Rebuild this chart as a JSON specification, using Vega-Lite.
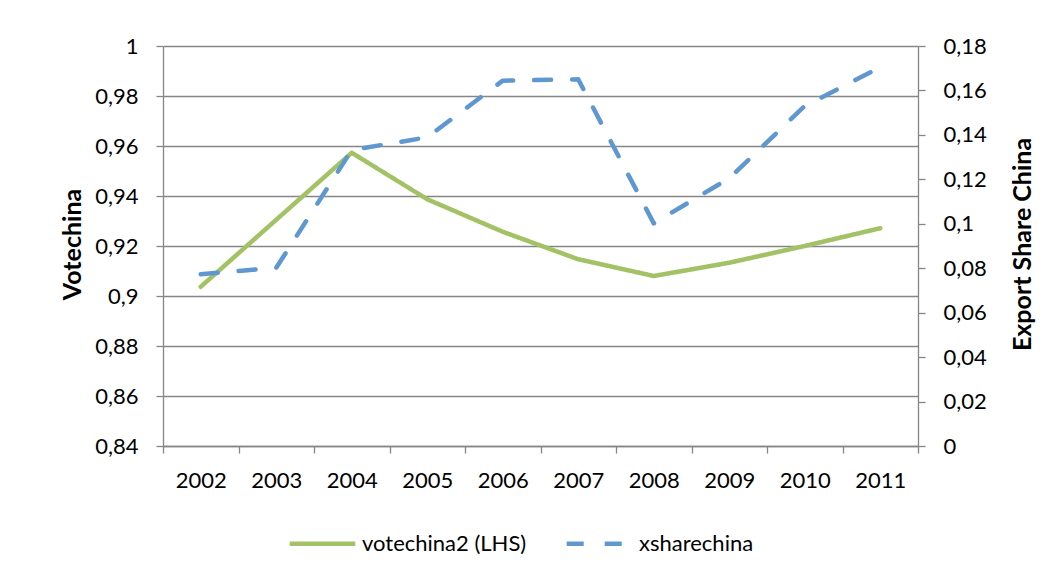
{
  "$schema": "https://vega.github.io/schema/vega-lite/v6.json",
  "autosize": "none",
  "width": 755,
  "height": 400,
  "padding": {"left": 163, "top": 46, "right": 138, "bottom": 135},
  "background": "white",
  "data": {
    "values": [
      {"year": "2002", "votechina": 0.9037, "xsharechina": 0.0773},
      {"year": "2003", "votechina": 0.9305, "xsharechina": 0.0802},
      {"year": "2004", "votechina": 0.9573, "xsharechina": 0.1332},
      {"year": "2005", "votechina": 0.9387, "xsharechina": 0.1389},
      {"year": "2006", "votechina": 0.9257, "xsharechina": 0.1644},
      {"year": "2007", "votechina": 0.9147, "xsharechina": 0.1650},
      {"year": "2008", "votechina": 0.9080, "xsharechina": 0.1002},
      {"year": "2009", "votechina": 0.9133, "xsharechina": 0.1205},
      {"year": "2010", "votechina": 0.9200, "xsharechina": 0.1530},
      {"year": "2011", "votechina": 0.9271, "xsharechina": 0.1704}
    ]
  },
  "encoding": {
    "x": {
      "field": "year",
      "type": "ordinal",
      "scale": {"type": "band", "paddingInner": 0, "paddingOuter": 0},
      "axis": {"title": null, "labelAngle": 0, "tickBand": "extent", "grid": false, "tickSize": 7, "labelPadding": 17}
    }
  },
  "layer": [
    {
      "mark": {"type": "line", "strokeWidth": 4.5, "strokeCap": "round", "strokeJoin": "round"},
      "encoding": {
        "y": {
          "field": "votechina",
          "type": "quantitative",
          "scale": {"domain": [0.84, 1], "nice": false, "zero": false},
          "axis": {
            "title": "Votechina",
            "orient": "left",
            "values": [0.84, 0.86, 0.88, 0.9, 0.92, 0.94, 0.96, 0.98, 1],
            "format": "~g",
            "grid": true,
            "tickSize": 7,
            "labelPadding": 18,
            "titleX": -91,
            "titleY": 198,
            "titleAngle": -90,
            "titleAlign": "center",
            "titleBaseline": "middle"
          }
        },
        "color": {
          "datum": "votechina2 (LHS)",
          "type": "nominal",
          "scale": {"domain": ["votechina2 (LHS)", "xsharechina"], "range": ["#A3C266", "#5F97D0"]}
        },
        "strokeDash": {
          "datum": "votechina2 (LHS)",
          "type": "nominal",
          "scale": {"domain": ["votechina2 (LHS)", "xsharechina"], "range": [[1, 0], [17, 21]]}
        }
      }
    },
    {
      "mark": {"type": "line", "strokeWidth": 4.5, "strokeCap": "round", "strokeJoin": "round"},
      "encoding": {
        "y": {
          "field": "xsharechina",
          "type": "quantitative",
          "scale": {"domain": [0, 0.18], "nice": false, "zero": true},
          "axis": {
            "title": "Export Share China",
            "orient": "right",
            "values": [0, 0.02, 0.04, 0.06, 0.08, 0.1, 0.12, 0.14, 0.16, 0.18],
            "format": "~g",
            "grid": false,
            "tickSize": 7,
            "labelPadding": 18,
            "titleX": 104,
            "titleY": 198,
            "titleAngle": -90,
            "titleAlign": "center",
            "titleBaseline": "middle"
          }
        },
        "color": {"datum": "xsharechina", "type": "nominal"},
        "strokeDash": {"datum": "xsharechina", "type": "nominal"}
      }
    }
  ],
  "resolve": {"scale": {"y": "independent"}},
  "config": {
    "locale": {"number": {"decimal": ",", "thousands": ".", "grouping": [3], "currency": ["", " €"]}},
    "font": "Lato",
    "view": {"stroke": null},
    "axis": {
      "labelFont": "Lato",
      "labelFontSize": 22,
      "labelColor": "#000000",
      "titleFont": "Lato",
      "titleFontSize": 25,
      "titleFontWeight": "bold",
      "titleColor": "#000000",
      "domainColor": "#868686",
      "domainWidth": 1.3,
      "tickColor": "#868686",
      "tickWidth": 1.3,
      "gridColor": "#868686",
      "gridWidth": 1.3
    },
    "legend": {
      "orient": "none",
      "legendX": 124,
      "legendY": 462,
      "direction": "horizontal",
      "title": null,
      "labelFont": "Lato",
      "labelFontSize": 22,
      "labelColor": "#000000",
      "labelLimit": 400,
      "symbolType": "stroke",
      "symbolSize": 4300,
      "symbolStrokeWidth": 4.5,
      "labelOffset": 4,
      "columnPadding": 30
    }
  }
}
